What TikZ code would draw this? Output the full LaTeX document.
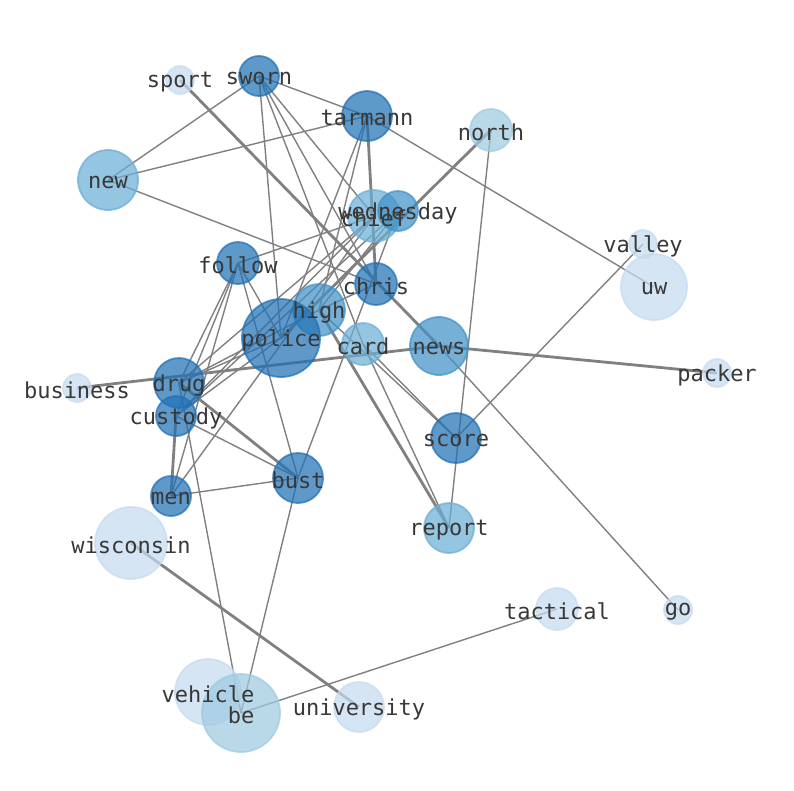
\documentclass[tikz,border=0pt]{standalone}
\usepackage{fontspec}
\setmonofont{DejaVu Sans Mono}
\usetikzlibrary{backgrounds}

\definecolor{tone1}{HTML}{2171B5}
\definecolor{tone2}{HTML}{4292C6}
\definecolor{tone3}{HTML}{6BAED6}
\definecolor{tone4}{HTML}{9ECAE1}
\definecolor{tone5}{HTML}{C6DBEF}

\begin{document}
\begin{tikzpicture}[x=1pt,y=-1pt,
	word/.style={circle,inner sep=0pt,line width=1.8pt,fill opacity=0.72,draw opacity=0.72},
	w1/.style={word,fill=tone1,draw=tone1},
	w2/.style={word,fill=tone2,draw=tone2},
	w3/.style={word,fill=tone3,draw=tone3},
	w4/.style={word,fill=tone4,draw=tone4},
	w5/.style={word,fill=tone5,draw=tone5},
	r/.style={minimum size=#1*2pt-2pt},
	word text/.style={font=\ttfamily\fontsize{22}{22}\selectfont,text=black!78,inner sep=0pt,yshift=-2pt},
	link/.style={draw=black!50,line width=1.4pt},
	heavy link/.style={draw=black!50,line width=2.8pt}]

	\useasboundingbox (0,0) rectangle (794,790);

	% words
	\node[w5,r=15] (sport) at (180,80) {};
	\node[w1,r=21] (sworn) at (259,76) {};
	\node[w1,r=26] (tarmann) at (367,116) {};
	\node[w4,r=22] (north) at (491,130) {};
	\node[w3,r=31] (new) at (108,180) {};
	\node[w3,r=27] (chief) at (374,216) {};
	\node[w2,r=21] (wednesday) at (398,211) {};
	\node[w5,r=15] (valley) at (643,244) {};
	\node[w1,r=22] (follow) at (238,263) {};
	\node[w5,r=34] (uw) at (654,287) {};
	\node[w1,r=22] (chris) at (376,284) {};
	\node[w2,r=27] (high) at (319,310) {};
	\node[w1,r=40] (police) at (281,338) {};
	\node[w3,r=22] (card) at (363,344) {};
	\node[w2,r=30] (news) at (439,346) {};
	\node[w5,r=15] (packer) at (717,373) {};
	\node[w5,r=15] (business) at (77,388) {};
	\node[w1,r=26] (drug) at (179,383) {};
	\node[w1,r=21] (custody) at (176,416) {};
	\node[w1,r=26] (score) at (456,438) {};
	\node[w1,r=26] (bust) at (298,478) {};
	\node[w1,r=21] (men) at (171,496) {};
	\node[w3,r=26] (report) at (449,528) {};
	\node[w5,r=37] (wisconsin) at (131,543) {};
	\node[w5,r=22] (tactical) at (557,609) {};
	\node[w5,r=15] (go) at (678,610) {};
	\node[w5,r=34] (vehicle) at (208,692) {};
	\node[w4,r=40] (be) at (241,713) {};
	\node[w5,r=26] (university) at (359,707) {};

	% labels on top of every circle
	\foreach \w in {sport,sworn,tarmann,north,new,chief,wednesday,valley,follow,uw,
		chris,high,police,card,news,packer,business,drug,custody,score,bust,men,
		report,wisconsin,tactical,go,vehicle,be,university}
		\node[word text] (\w-txt) at (\w.center) {\w};

	% links
	\begin{scope}[on background layer]
	\path[link]
	(sworn.center) edge (new.center)
	(sworn.center) edge (tarmann.center)
	(sworn.center) edge (police.center)
	(sworn.center) edge (card.center)
	(sworn.center) edge (chris.center)
	(sworn.center) edge (chief.center)
	(news.center) edge (go.center)
	(tarmann.center) edge (new.center)
	(tarmann.center) edge (uw.center)
	(tarmann.center) edge (police.center)
	(tarmann.center) edge (high.center)
	(north.center) edge (report.center)
	(new.center) edge (chris.center)
	(follow.center) edge (chief.center)
	(follow.center) edge (drug.center)
	(follow.center) edge (custody.center)
	(follow.center) edge (men.center)
	(follow.center) edge (police.center)
	(follow.center) edge (bust.center)
	(chief.center) edge (drug.center)
	(chief.center) edge (custody.center)
	(wednesday.center) edge (custody.center)
	(wednesday.center) edge (high.center)
	(wednesday.center) edge (bust.center)
	(chris.center) edge (high.center)
	(high.center) edge (drug.center)
	(high.center) edge (score.center)
	(card.center) edge (score.center)
	(card.center) edge (report.center)
	(police.center) edge (drug.center)
	(police.center) edge (custody.center)
	(men.center) edge (chief.center)
	(men.center) edge (bust.center)
	(custody.center) edge (bust.center)
	(drug.center) edge (be.center)
	(bust.center) edge (be.center)
	(tactical.center) edge (be.center)
	(valley.center) edge (score.center);
	\path[heavy link]
	(sport.center) edge (news.center)
	(tarmann.center) edge (chris.center)
	(north.center) edge (police.center)
	(high.center) edge (report.center)
	(men.center) edge (custody.center)
	(drug.center) edge (bust.center)
	(business.center) edge (news.center)
	(news.center) edge (packer.center)
	(wisconsin.center) edge (university.center);
	\end{scope}
\end{tikzpicture}
\end{document}
